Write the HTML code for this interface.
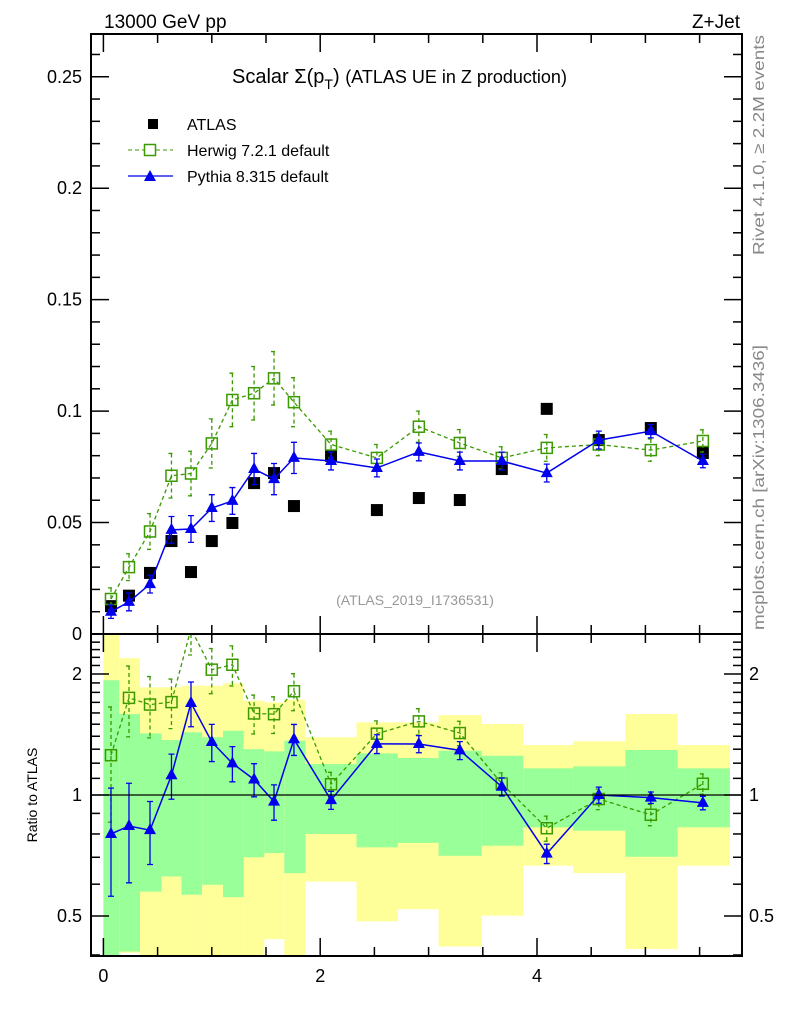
<!DOCTYPE html>
<html><head><meta charset="utf-8"><style>
body{margin:0;background:#fff;width:786px;height:1024px;overflow:hidden}
svg{display:block;font-family:"Liberation Sans",sans-serif}
</style></head><body>
<svg id="c" width="786" height="1024" viewBox="0 0 786 1024">
<defs>
<clipPath id="cm"><rect x="91" y="34" width="651" height="600"/></clipPath>
<clipPath id="cr"><rect x="91" y="634" width="651" height="322"/></clipPath>
</defs>
<text x="104" y="28" font-size="19">13000 GeV pp</text>
<text x="740" y="28" font-size="19" text-anchor="end">Z+Jet</text>
<text x="232" y="83" font-size="20">Scalar Σ(p<tspan font-size="14" dy="6">T</tspan><tspan dy="-6">) </tspan><tspan font-size="18">(ATLAS UE in Z production)</tspan></text>
<text x="415" y="605" font-size="14" fill="#999" text-anchor="middle">(ATLAS_2019_I1736531)</text>
<text transform="translate(764,255) rotate(-90)" font-size="16" fill="#888" textLength="220" lengthAdjust="spacingAndGlyphs">Rivet 4.1.0, ≥ 2.2M events</text>
<text transform="translate(764,630) rotate(-90)" font-size="16" fill="#888" textLength="285" lengthAdjust="spacingAndGlyphs">mcplots.cern.ch [arXiv:1306.3436]</text>
<text transform="translate(37,795) rotate(-90)" font-size="14" text-anchor="middle">Ratio to ATLAS</text>
<g>
<rect x="148" y="119" width="10" height="10" fill="#000"/>
<text x="187" y="130" font-size="16">ATLAS</text>
<line x1="128" y1="150" x2="173" y2="150" stroke="#3a9a00" stroke-dasharray="4,3"/>
<rect x="144.5" y="144.5" width="11" height="11" fill="#fff" stroke="#3a9a00" stroke-width="1.5"/>
<text x="187" y="156" font-size="16">Herwig 7.2.1 default</text>
<line x1="128" y1="176" x2="173" y2="176" stroke="#0000ee" stroke-width="1.3"/>
<polygon points="150,170 144,181 156,181" fill="#0000ee"/>
<text x="187" y="182" font-size="16">Pythia 8.315 default</text>
</g>
<g id="bands" clip-path="url(#cr)"></g>
<g id="marks"></g>
<g id="axes"></g>
</svg>
<script>
const xVals=[0.07,0.236,0.43,0.628,0.808,1.0,1.19,1.39,1.574,1.758,2.10,2.523,2.91,3.288,3.675,4.09,4.57,5.05,5.53];
const binEdges=[0,0.146,0.338,0.536,0.72,0.911,1.103,1.294,1.485,1.669,1.864,2.335,2.717,3.092,3.491,3.874,4.333,4.815,5.297,5.78];
const atlas=[0.0125,0.0172,0.0274,0.0417,0.0278,0.0417,0.0498,0.0677,0.0722,0.0574,0.0799,0.0556,0.0610,0.0601,0.074,0.101,0.087,0.0924,0.0812];
const herwig=[0.0157,0.030,0.046,0.071,0.072,0.0855,0.105,0.108,0.1147,0.104,0.085,0.079,0.093,0.0857,0.079,0.0835,0.085,0.0825,0.0866];
const herwigErr=[0.005,0.006,0.008,0.010,0.010,0.011,0.012,0.012,0.012,0.011,0.006,0.006,0.007,0.006,0.005,0.006,0.005,0.005,0.005];
const pythia=[0.0100,0.0144,0.0224,0.0467,0.0471,0.0565,0.0597,0.074,0.0695,0.079,0.0776,0.0745,0.0817,0.0776,0.0776,0.0722,0.087,0.091,0.0776];
const pythiaErr=[0.003,0.004,0.004,0.006,0.006,0.006,0.006,0.007,0.007,0.007,0.004,0.004,0.004,0.004,0.004,0.004,0.004,0.003,0.003];
const greenHi=[1.93,1.59,1.423,1.37,1.432,1.392,1.445,1.30,1.284,1.365,1.194,1.269,1.236,1.289,1.252,1.165,1.178,1.294,1.165];
const greenLo=[0.39,0.408,0.575,0.627,0.565,0.598,0.557,0.70,0.717,0.639,0.80,0.741,0.76,0.706,0.748,0.831,0.815,0.702,0.831];
const yellowHi=[2.6,2.19,1.853,1.853,1.87,1.87,1.896,1.717,1.70,1.726,1.392,1.516,1.516,1.58,1.502,1.331,1.36,1.59,1.331];
const yellowLo=[0.39,0.405,0.39,0.39,0.39,0.39,0.39,0.39,0.438,0.39,0.609,0.485,0.52,0.42,0.501,0.667,0.639,0.414,0.667];
const yTicks=[0,0.05,0.1,0.15,0.2,0.25];
const yTickLabels=["0","0.05","0.1","0.15","0.2","0.25"];
const rTicks=[0.5,1,2];
const rTickLabels=["0.5","1","2"];
const xTicks=[0,2,4];
const xTickLabels=["0","2","4"];

const NS="http://www.w3.org/2000/svg";
const X=v=>103.4+v*108.4;
const Y=v=>634-v*2229;
const R=r=>795-402*Math.log10(r);
function mk(p,tag,a){const e=document.createElementNS(NS,tag);for(const k in a)e.setAttribute(k,a[k]);p.appendChild(e);return e;}
const bands=document.getElementById('bands'),marks=document.getElementById('marks'),axes=document.getElementById('axes');

for(let i=0;i<greenHi.length;i++){
 const x0=X(binEdges[i]),x1=X(binEdges[i+1]);
 let e=mk(bands,'rect',{x:x0,y:R(yellowHi[i]),width:x1-x0,height:R(yellowLo[i])-R(yellowHi[i]),fill:'#ffff99'});
 
 
 e=mk(bands,'rect',{x:x0,y:R(greenHi[i]),width:x1-x0,height:R(greenLo[i])-R(greenHi[i]),fill:'#99ff99'});
 
 
}
let l=mk(axes,'line',{x1:91,x2:742,y1:R(1),y2:R(1),stroke:'#000','stroke-width':1.2});



function series(vals,errs,color,dashed,marker,name,ratio){
 const g=mk(marks,'g',{'clip-path':ratio?'url(#cr)':'url(#cm)'});
 
 
 const yf=ratio?(i,v)=>R(v/atlas[i]):(i,v)=>Y(v);
 const pts=vals.map((v,i)=>X(xVals[i])+','+yf(i,v)).join(' ');
 const pl=mk(g,'polyline',{points:pts,fill:'none',stroke:color,'stroke-width':dashed?1.3:1.5,'stroke-dasharray':dashed?'4,3':'none'});
 
 
 vals.forEach((v,i)=>{
  const x=X(xVals[i]),y=yf(i,v),yh=yf(i,v+errs[i]),yl=yf(i,Math.max(v-errs[i],1e-4));
  const eb=mk(g,'path',{d:`M${x},${yh}V${yl}M${x-3},${yh}H${x+3}M${x-3},${yl}H${x+3}`,stroke:color,'stroke-width':1.3,fill:'none','stroke-dasharray':dashed?'4,3':'none'});
  
  
  let m;
  if(marker==='sq')m=mk(g,'rect',{x:x-5.5,y:y-5.5,width:11,height:11,fill:'none',stroke:color,'stroke-width':1.5});
  else m=mk(g,'polygon',{points:`${x},${y-7} ${x-6},${y+4} ${x+6},${y+4}`,fill:color});
  
  
 });
}
const ga=mk(marks,'g',{'clip-path':'url(#cm)'});


atlas.forEach((v,i)=>{
 const r=mk(ga,'rect',{x:X(xVals[i])-6,y:Y(v)-6,width:12,height:12,fill:'#000'});
 
 
});
series(herwig,herwigErr,'#3a9a00',true,'sq','herwig',false);
series(pythia,pythiaErr,'#0000ee',false,'tri','pythia',false);
series(herwig,herwigErr,'#3a9a00',true,'sq','herwig',true);
series(pythia,pythiaErr,'#0000ee',false,'tri','pythia',true);

for(const [y0,h,n] of [[34,600,'main-plot-frame'],[634,322,'ratio-plot-frame']]){
 const f=mk(axes,'rect',{x:91,y:y0,width:651,height:h,fill:'none',stroke:'#000','stroke-width':2});
 
 
}
function tk(x1,y1,x2,y2){mk(axes,'line',{x1,y1,x2,y2,stroke:'#000','stroke-width':1.5});}
function lbl(x,y,t,anchor,name){const e=mk(axes,'text',{x,y,'font-size':18,'text-anchor':anchor});e.textContent=t;
 
 }
for(let v=0;v<=0.265;v+=0.01){const y=Y(v);const maj=Math.abs(v/0.05-Math.round(v/0.05))<1e-6;const L=maj?18:9;tk(91,y,91+L,y);tk(742,y,742-L,y);}
yTicks.forEach((v,i)=>lbl(82,Y(v)+6,yTickLabels[i],'end','y-tick-label'));
const rMin=[0.4,0.6,0.7,0.8,0.9,1.1,1.2,1.3,1.4,1.5,1.6,1.7,1.8,1.9,2.1,2.2,2.3,2.4];
rMin.forEach(r=>{const y=R(r);tk(91,y,100,y);tk(742,y,733,y);});
rTicks.forEach((r,i)=>{const y=R(r);tk(91,y,109,y);tk(742,y,724,y);lbl(82,y+6,rTickLabels[i],'end','ratio-tick-label');lbl(749,y+6,rTickLabels[i],'start','ratio-tick-label-right');});
for(let v=0;v<=5.8;v+=0.5){const x=X(v);const maj=Math.abs(v/2-Math.round(v/2))<1e-6;const L=maj?18:9;
 tk(x,634,x,634-L);tk(x,34,x,34+L);tk(x,956,x,956-L);tk(x,634,x,634+L);}
xTicks.forEach((v,i)=>lbl(X(v),982,xTickLabels[i],'middle','x-tick-label'));
</script>
</body></html>
